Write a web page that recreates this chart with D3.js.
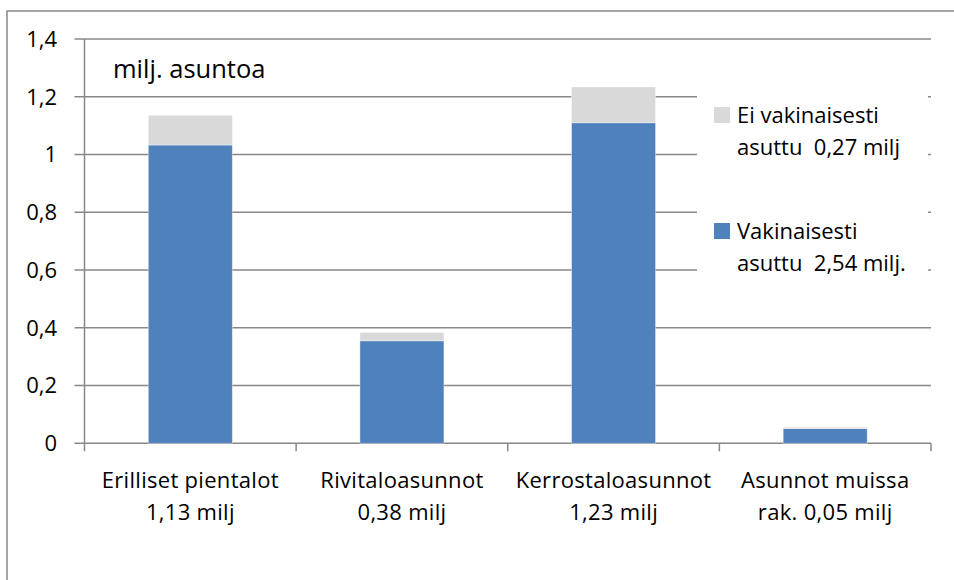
<!DOCTYPE html>
<html>
<head>
<meta charset="utf-8">
<script src="https://cdn.jsdelivr.net/npm/d3@7"></script>
<style>
html,body{margin:0;padding:0;background:#fff;}
svg{display:block;font-family:"Open Sans","Noto Sans",sans-serif;}
</style>
</head>
<body>
<svg id="chart" width="954" height="580"></svg>
<script>
const categories = ["Erilliset pientalot", "Rivitaloasunnot", "Kerrostaloasunnot", "Asunnot muissa"];
const categorySub = ["1,13 milj", "0,38 milj", "1,23 milj", "rak. 0,05 milj"];
const vakinaisesti = [1.033, 0.355, 1.110, 0.051];
const eiVakinaisesti = [0.103, 0.029, 0.124, 0.005];
const yTicks = [0, 0.2, 0.4, 0.6, 0.8, 1, 1.2, 1.4];
const seriesNames = [["Ei vakinaisesti", "asuttu  0,27 milj"], ["Vakinaisesti", "asuttu  2,54 milj."]];
const colors = ["#d9d9d9", "#4f81bd"];
const unitLabel = "milj. asuntoa";

const svg = d3.select("#chart");
const L = 84.5, R = 931, B = 443.3, T = 39;

// outer border (only top/left visible)
svg.append("rect").attr("x", 7).attr("y", 11).attr("width", 1000).attr("height", 1000)
  .attr("fill", "none").attr("stroke", "#888").attr("stroke-width", 1.5);

const x = d3.scaleBand().domain(categories).range([L, R]).paddingInner(0.603).paddingOuter(0.3015);
const xb = d3.scaleBand().domain(categories).range([L, R]);
const y = d3.scaleLinear().domain([0, 1.4]).range([B, T]);

// gridlines
svg.append("g").selectAll("line").data(yTicks).join("line")
  .attr("x1", L - 10).attr("x2", R)
  .attr("y1", d => y(d)).attr("y2", d => y(d))
  .attr("stroke", "#888").attr("stroke-width", 1.5);

// y labels
svg.append("g").selectAll("text").data(yTicks).join("text")
  .attr("x", 57).attr("y", d => y(d)).attr("dy", "0.36em")
  .attr("text-anchor", "end").attr("font-size", 22).attr("fill", "#000")
  .text(d => String(+d.toFixed(1)).replace(".", ","));

// axes lines
svg.append("line").attr("x1", L).attr("x2", L).attr("y1", T).attr("y2", B + 8)
  .attr("stroke", "#888").attr("stroke-width", 1.5);
svg.append("g").selectAll("line").data(categories).join("line")
  .attr("x1", d => xb(d) + xb.bandwidth()).attr("x2", d => xb(d) + xb.bandwidth())
  .attr("y1", B).attr("y2", B + 8).attr("stroke", "#888").attr("stroke-width", 1.5);

// stacked bars
const data = categories.map((c, i) => ({cat: c, v: vakinaisesti[i], e: eiVakinaisesti[i]}));
const stack = d3.stack().keys(["v", "e"])(data);
const fillFor = {v: colors[1], e: colors[0]};
svg.append("g").selectAll("g").data(stack).join("g")
  .attr("fill", d => fillFor[d.key])
  .selectAll("rect").data(d => d).join("rect")
  .attr("x", d => x(d.data.cat)).attr("width", x.bandwidth())
  .attr("y", d => y(d[1])).attr("height", d => y(d[0]) - y(d[1]))
  .attr("stroke", "rgba(255,255,255,0.5)").attr("stroke-width", 0.8);

// category labels
const cl = svg.append("g").selectAll("text").data(categories).join("text")
  .attr("text-anchor", "middle").attr("font-size", 22).attr("letter-spacing", 0.3).attr("fill", "#000");
cl.append("tspan").attr("x", d => xb(d) + xb.bandwidth() / 2).attr("y", 488).text(d => d);
cl.append("tspan").attr("x", d => xb(d) + xb.bandwidth() / 2).attr("y", 520).text((d, i) => categorySub[i]);

// unit label
svg.append("text").attr("x", 113).attr("y", 78).attr("font-size", 25.5).attr("fill", "#000").text(unitLabel);

// legend
const lg = svg.append("g");
lg.append("rect").attr("x", 697).attr("y", 62).attr("width", 231).attr("height", 230).attr("fill", "#fff");
const legendY = [107, 223];
seriesNames.forEach((lines, i) => {
  lg.append("rect").attr("x", 714).attr("y", legendY[i]).attr("width", 16).attr("height", 16).attr("fill", colors[i]);
  const t = lg.append("text").attr("font-size", 22).attr("fill", "#000").style("white-space", "pre");
  t.append("tspan").attr("x", 737).attr("y", legendY[i] + 16).text(lines[0]);
  t.append("tspan").attr("x", 737).attr("y", legendY[i] + 48).text(lines[1]);
});
</script>
</body>
</html>
